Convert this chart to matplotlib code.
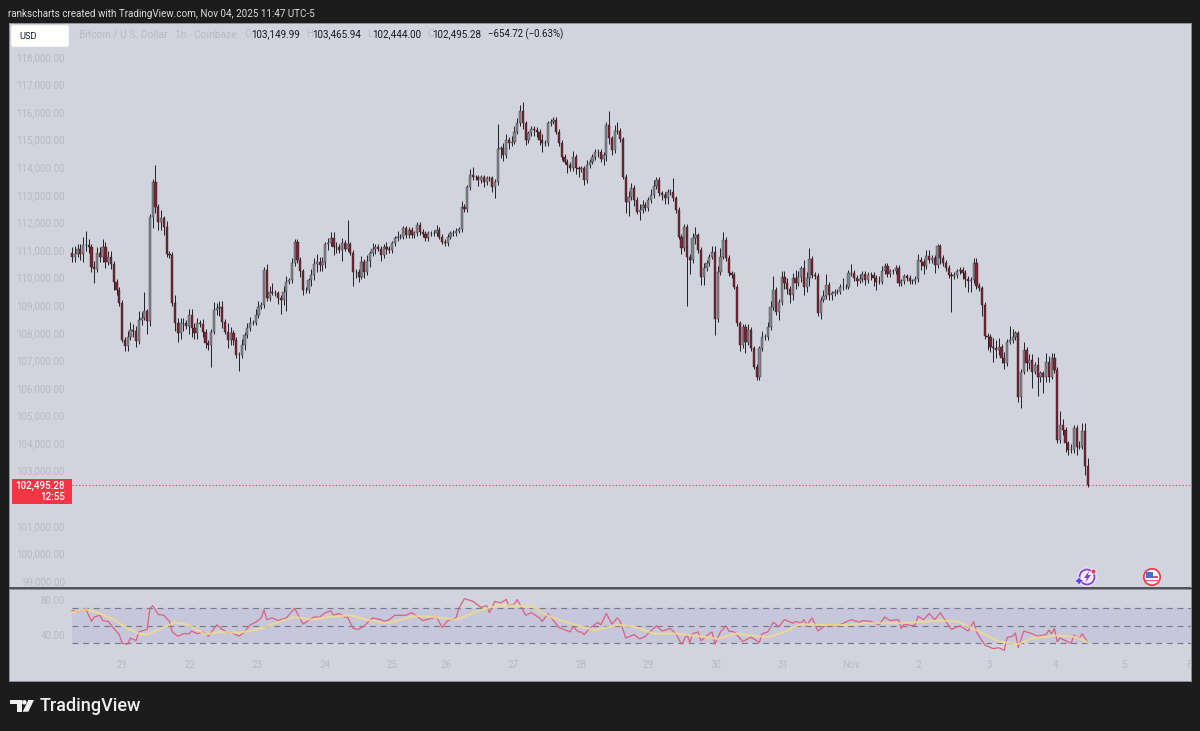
import numpy as np
import matplotlib
matplotlib.use('Agg')
import matplotlib.pyplot as plt
from matplotlib.patches import Rectangle, Circle, Polygon, FancyBboxPatch

plt.rcParams['font.family'] = ['Roboto', 'DejaVu Sans']

# hourly closes, thousands of USD (row = 10 candles)
close_k = [
    110.76, 110.85, 111.03, 110.85, 111.18, 111.18, 111.1, 110.4, 110.3, 110.9,
    110.75, 111.1, 110.55, 110.75, 110.5, 109.85, 109.55, 109.07, 107.75, 107.53,
    107.85, 108.1, 108.05, 107.7, 108.47, 108.55, 108.77, 108.44, 112.2, 113.48,
    112.55, 112.03, 112.15, 111.85, 110.85, 110.82, 109.07, 108.35, 107.98, 108.35,
    108.35, 108.25, 108.65, 108.16, 107.98, 108.35, 108.3, 108.04, 107.64, 107.56,
    108.04, 108.83, 108.89, 108.95, 108.38, 108.04, 107.74, 108.0, 107.74, 107.2,
    107.2, 107.56, 107.92, 108.16, 108.37, 108.37, 108.65, 108.95, 109.0, 110.28,
    109.25, 109.49, 109.45, 109.43, 109.25, 109.19, 109.49, 109.85, 109.9, 110.52,
    111.28, 110.64, 110.22, 109.55, 109.55, 109.9, 110.1, 110.5, 110.55, 110.45,
    110.55, 111.2, 111.25, 111.45, 111.1, 111.1, 111.0, 111.25, 111.05, 111.2,
    110.9, 110.2, 110.2, 110.03, 110.57, 110.2, 110.6, 110.88, 111.05, 111.1,
    111.05, 110.8, 111.1, 111.05, 111.0, 111.24, 111.42, 111.48, 111.48, 111.78,
    111.54, 111.72, 111.54, 111.6, 111.9, 111.66, 111.58, 111.42, 111.6, 111.6,
    111.62, 111.72, 111.48, 111.3, 111.24, 111.48, 111.6, 111.62, 111.7, 111.75,
    112.57, 112.47, 113.27, 113.72, 113.63, 113.63, 113.53, 113.63, 113.47, 113.6,
    113.6, 113.3, 113.47, 114.65, 114.68, 114.44, 114.99, 114.87, 114.93, 115.29,
    115.59, 116.05, 115.59, 114.99, 115.23, 115.4, 115.35, 115.29, 114.99, 114.87,
    114.87, 115.59, 115.65, 115.71, 115.29, 114.87, 114.38, 114.2, 114.08, 113.96,
    114.38, 113.96, 113.93, 113.96, 113.54, 114.08, 114.2, 114.38, 114.57, 114.57,
    114.29, 114.44, 115.53, 115.05, 114.63, 115.33, 115.32, 115.01, 113.66, 112.75,
    112.93, 113.24, 112.81, 112.39, 112.45, 112.63, 112.51, 112.81, 113.0, 113.32,
    113.54, 113.05, 113.0, 112.87, 113.1, 113.1, 112.87, 112.45, 111.48, 111.06,
    111.85, 110.76, 110.64, 111.42, 111.53, 111.0, 110.03, 110.33, 110.52, 110.76,
    110.94, 108.5, 110.21, 110.76, 111.36, 110.7, 110.15, 110.09, 109.67, 108.34,
    107.55, 108.2, 107.67, 108.1, 107.43, 106.77, 106.4, 107.43, 107.85, 107.85,
    108.2, 108.94, 109.55, 108.76, 109.12, 110.03, 109.79, 109.6, 109.37, 109.97,
    109.79, 110.03, 110.33, 109.67, 110.0, 110.67, 110.1, 110.05, 108.7, 109.2,
    109.34, 109.73, 109.37, 109.43, 109.49, 109.49, 109.65, 109.67, 109.67, 110.16,
    110.18, 109.98, 109.89, 109.94, 110.13, 109.92, 110.1, 110.1, 109.98, 109.85,
    109.85, 110.22, 110.42, 110.13, 110.22, 110.22, 110.34, 109.8, 109.86, 110.04,
    109.98, 109.86, 109.86, 109.94, 110.64, 110.58, 110.42, 110.79, 110.64, 110.7,
    110.46, 111.13, 110.7, 110.52, 110.34, 110.1, 110.04, 110.1, 110.22, 110.28,
    110.16, 109.94, 109.86, 109.92, 110.52, 109.7, 109.61, 109.01, 107.88, 107.86,
    107.5, 107.44, 107.38, 107.5, 107.1, 106.9, 107.68, 107.74, 107.84, 107.98,
    105.68, 106.59, 107.38, 106.9, 107.02, 106.59, 106.83, 106.41, 106.53, 106.41,
    106.95, 106.41, 107.07, 106.65, 104.11, 104.66, 104.48, 103.99, 103.75, 103.75,
    104.54, 103.87, 103.87, 104.42, 103.15, 102.495,
]

# wick length above / below the body, in hundreds of USD
upper_wick = [
    2, 3, 2, 2, 3, 5, 2, 1, 2, 2,  2, 3, 2, 2, 2, 1, 1, 1, 1, 1,
    2, 3, 2, 2, 3, 2, 7, 1, 1, 1,  6, 1, 3, 1, 2, 1, 1, 3, 2, 2,
    2, 1, 2, 2, 2, 2, 1, 2, 1, 1,  1, 3, 2, 2, 2, 1, 3, 2, 1, 1,
    1, 2, 1, 2, 2, 1, 2, 2, 1, 1,  2, 2, 3, 1, 1, 1, 2, 2, 1, 2,
    1, 1, 1, 1, 1, 1, 2, 2, 3, 2,  2, 1, 2, 2, 2, 2, 1, 2, 1, 9,
    1, 1, 1, 1, 2, 1, 2, 1, 2, 1,  1, 1, 1, 2, 1, 1, 1, 2, 1, 1,
    1, 1, 1, 1, 1, 1, 1, 1, 1, 1,  1, 2, 1, 1, 1, 1, 1, 1, 1, 1,
    2, 1, 1, 2, 3, 1, 1, 1, 1, 1,  1, 1, 1, 9, 1, 2, 2, 1, 2, 2,
    2, 2, 3, 1, 1, 1, 1, 1, 1, 2,  1, 1, 1, 1, 1, 1, 1, 1, 1, 1,
    2, 1, 1, 1, 1, 2, 1, 1, 1, 1,  1, 1, 1, 5, 1, 2, 3, 1, 1, 1,
    2, 2, 1, 1, 2, 2, 1, 1, 2, 2,  1, 1, 1, 1, 1, 1, 5, 1, 1, 1,
    1, 1, 1, 2, 3, 1, 1, 2, 1, 1,  2, 2, 2, 3, 3, 1, 1, 1, 1, 1,
    1, 1, 1, 2, 1, 1, 1, 1, 2, 1,  2, 2, 5, 1, 1, 2, 2, 2, 1, 2,
    3, 2, 1, 3, 2, 4, 1, 1, 1, 1,  2, 4, 1, 1, 1, 1, 1, 3, 1, 1,
    3, 1, 1, 2, 1, 1, 1, 1, 1, 1,  2, 2, 1, 1, 1, 1, 1, 1, 1, 1,
    1, 1, 1, 1, 2, 1, 1, 2, 2, 1,  1, 1, 1, 1, 1, 1, 1, 1, 1, 1,
    1, 1, 1, 1, 2, 2, 1, 1, 1, 1,  1, 3, 3, 3, 1, 2, 1, 5, 3, 1,
    1, 1, 3, 1, 2, 2, 1, 3, 1, 1,  3, 2, 2, 2, 1, 5, 2, 1, 1, 2,
    1, 1, 2, 3, 3, 3,
]
lower_wick = [
    2, 2, 1, 2, 3, 2, 2, 2, 5, 1,  2, 2, 2, 1, 2, 3, 2, 1, 1, 2,
    2, 1, 2, 2, 1, 2, 1, 5, 2, 4,  2, 3, 3, 3, 1, 1, 1, 3, 3, 2,
    3, 1, 3, 3, 2, 2, 1, 2, 2, 2,  8, 1, 2, 3, 2, 1, 3, 2, 2, 1,
    6, 1, 2, 1, 1, 1, 1, 1, 1, 1,  1, 1, 1, 1, 2, 5, 2, 7, 1, 1,
    1, 1, 2, 2, 1, 1, 2, 2, 3, 2,  2, 2, 2, 1, 3, 2, 1, 4, 1, 1,
    1, 5, 2, 2, 1, 2, 1, 2, 1, 2,  1, 2, 1, 2, 1, 1, 1, 1, 1, 1,
    1, 1, 1, 1, 1, 1, 1, 1, 1, 1,  1, 1, 1, 1, 1, 1, 1, 1, 1, 1,
    1, 1, 1, 1, 1, 1, 2, 1, 2, 1,  1, 2, 4, 1, 3, 2, 1, 2, 1, 1,
    1, 1, 2, 2, 1, 1, 2, 2, 2, 3,  1, 1, 1, 1, 1, 1, 1, 1, 3, 1,
    1, 2, 3, 1, 2, 1, 1, 1, 1, 2,  1, 2, 2, 2, 2, 1, 1, 1, 1, 4,
    5, 1, 2, 1, 3, 1, 1, 1, 1, 1,  1, 1, 2, 2, 2, 1, 1, 1, 1, 2,
    1, 18, 5, 1, 2, 1, 3, 3, 1, 1,  1, 6, 1, 1, 1, 1, 1, 1, 1, 1,
    2, 1, 4, 1, 1, 1, 1, 1, 1, 1,  1, 1, 1, 1, 3, 1, 2, 2, 3, 2,
    2, 1, 2, 3, 2, 3, 1, 1, 1, 2,  1, 1, 2, 2, 1, 1, 1, 1, 1, 1,
    1, 1, 2, 1, 1, 2, 1, 2, 3, 3,  1, 1, 1, 1, 1, 1, 1, 1, 1, 1,
    1, 1, 1, 1, 1, 3, 3, 1, 1, 1,  3, 1, 2, 1, 1, 1, 13, 1, 1, 1,
    2, 3, 4, 4, 1, 1, 1, 4, 1, 5,  2, 5, 3, 2, 2, 2, 1, 1, 1, 1,
    2, 4, 1, 3, 2, 6, 1, 7, 2, 6,  2, 2, 1, 1, 1, 1, 2, 3, 2, 1,
    1, 3, 1, 1, 3, 1,
]

# RSI turning points: candle number, value
rsi_idx = [0, 2, 5, 7, 8, 10, 11, 13, 15, 17, 18, 20, 21, 23, 24, 27, 28, 29, 31, 33, 35, 36, 38, 40, 42, 43, 45, 47,
           49, 52, 54, 56, 57, 60, 62, 64, 66, 68, 69, 70, 72, 74, 77, 80, 83, 85, 87, 89, 91, 93, 94, 96, 98, 99,
           101, 103, 105, 108, 111, 112, 114, 116, 118, 120, 122, 123, 126, 131, 133, 135, 138, 139, 141, 144, 147,
           149, 150, 152, 154, 156, 157, 159, 160, 163, 165, 168, 169, 171, 175, 179, 180, 182, 183, 184, 186, 189,
           190, 192, 194, 196, 197, 199, 202, 204, 206, 210, 212, 215, 217, 219, 221, 222, 223, 225, 226, 229, 230,
           231, 233, 235, 236, 238, 241, 244, 247, 248, 250, 252, 254, 256, 259, 260, 262, 263, 264, 266, 268, 271,
           275, 280, 283, 284, 287, 290, 292, 294, 297, 298, 299, 302, 303, 304, 306, 308, 310, 312, 314, 316, 319,
           322, 324, 325, 328, 331, 333, 335, 336, 338, 339, 340, 342, 345, 347, 350, 351, 352, 353, 354, 355, 359,
           360, 362, 363, 365]
rsi_val = [67, 66, 69, 55, 60, 62, 56, 55, 47, 40, 30, 29, 36, 33, 43, 46, 70, 73, 63, 62, 55, 43, 38, 41, 41, 44, 41, 43,
           38, 51, 46, 42, 43, 38, 43, 51, 54, 59, 68, 57, 59, 56, 59, 70, 52, 56, 60, 60, 65, 67, 62, 64, 60, 60,
           47, 46, 50, 59, 57, 55, 57, 62, 62, 62, 65, 63, 56, 60, 48, 56, 59, 70, 81, 78, 71,
           73, 65, 78, 76, 80, 73, 75, 80, 62, 65, 59, 55, 64, 48, 43, 49, 43, 43, 40, 47, 54,
           51, 64, 52, 59, 55, 36, 40, 35, 38, 50, 44, 47, 41, 29, 40, 31, 41, 43, 33, 41, 43,
           29, 43, 50, 44, 43, 32, 37, 31, 41, 43, 54, 49, 57, 53, 55, 53, 57, 51, 59, 44, 51,
           50, 57, 54, 56, 55, 51, 60, 56, 57, 47, 52, 50, 51, 61, 57, 64, 57, 65, 55, 46, 50,
           44, 55, 43, 28, 24, 25, 22, 37, 38, 42, 25, 44, 41, 38, 40, 45, 41, 47, 32, 36, 30,
           39, 36, 41, 31]

# moving average over the RSI
sma_idx = [0, 5, 10, 15, 20, 24, 27, 32, 37, 42, 48, 53, 60, 68, 74, 80, 86, 92, 100, 107, 113, 118, 123, 130, 138, 147,
           154, 165, 172, 181, 188, 196, 202, 209, 217, 226, 232, 238, 250, 256, 262, 269, 278, 286, 298, 312, 318,
           325, 333, 340, 345, 354, 361, 365]
sma_val = [65, 69, 64, 57, 47, 41, 40, 47, 54, 51, 40, 43, 42, 47, 54, 60, 57, 60, 62, 56, 53, 57, 61, 60, 57, 68,
           74, 72, 60, 51, 45, 51, 49, 41, 41, 38, 35, 41, 37, 43, 52, 51, 51, 53, 53, 56, 55,
           45, 32, 29, 36, 39, 37, 31]

price_ticks = list(range(99000, 119000, 1000))
day_labels = ['21', '22', '23', '24', '25', '26', '27', '28', '29', '30', '31', 'Nov', '2', '3', '4', '5', '6']
# candle number of each label, the days are not all the same width on this chart
day_pos = [18, 42.4, 66.5, 91, 115, 134.4, 158.5, 183, 207, 231.5, 255.5, 280, 304, 329.5, 353.5, 378, 401.5]
rsi_ticks = [40, 80]
rsi_levels = [30, 50, 70]

W, H = 1200, 731
STEP = 2.783     # pixels per candle
X0 = 72          # pixel of first candle
BG = '#1c1c1c'
PANEL = '#d1d4dc'
AXTXT = '#b7bac4'
FS = 7.15

close = np.array(close_k) * 1000
open_ = np.concatenate(([110900.0], close[:-1]))
high = np.maximum(open_, close) + np.array(upper_wick) * 100
low = np.minimum(open_, close) - np.array(lower_wick) * 100
idx = np.arange(len(close))


def axes_px(left, top, right, bottom, **kw):
    return fig.add_axes([left / W, 1 - bottom / H, (right - left) / W, (bottom - top) / H], **kw)


fig = plt.figure(figsize=(W / 100, H / 100), dpi=100, facecolor=BG)

xlim = ((9 - X0) / STEP, (1191 - X0) / STEP)

# price pane
ax = axes_px(9, 23, 1191, 587, facecolor=PANEL)
ax.set_xlim(*xlim)
ax.set_ylim(98780, 119230)
up = close >= open_
ax.vlines(idx, low, high, color='#26262a', lw=0.72, zorder=2)
ax.bar(idx[up], (close - open_)[up], bottom=open_[up], width=0.8, color='#85868c',
       edgecolor='#34343a', lw=0.28, zorder=3)
ax.bar(idx[~up], (close - open_)[~up], bottom=open_[~up], width=0.8, color='#7a2437',
       edgecolor='#2c181c', lw=0.28, zorder=3)
ax.hlines(close[-1], 0, xlim[1], color='#f23645', lw=0.8, linestyles=(0, (1, 2)), zorder=1)
ax.set_xticks([])
ax.set_yticks(price_ticks)
ax.set_yticklabels(['{:,.2f}'.format(p) for p in price_ticks], fontsize=FS, color=AXTXT)
ax.tick_params(axis='y', length=0, pad=-40.5)

# RSI pane
ax2 = axes_px(9, 589, 1191, 681, facecolor=PANEL)
ax2.set_xlim(*xlim)
ax2.set_ylim(-13, 92)
ax2.fill_between([0, xlim[1]], 30, 70, color='#c7c7db', lw=0, zorder=1)
for lev in rsi_levels:
    ax2.hlines(lev, 0, xlim[1], color='#787b86', lw=0.85, linestyles=(0, (5, 4)), zorder=2)
ax2.plot(rsi_idx, rsi_val, color='#dc5f82', lw=0.9, zorder=3)
ax2.plot(sma_idx, sma_val, color='#f2dc8c', lw=1.5, alpha=0.8, zorder=4)
ax2.set_yticks(rsi_ticks)
ax2.set_yticklabels(['{:.2f}'.format(v) for v in rsi_ticks], fontsize=FS, color=AXTXT)
ax2.tick_params(axis='y', length=0, pad=-40.5)
ax2.set_xticks(day_pos)
ax2.set_xticklabels(day_labels, fontsize=FS, color=AXTXT)
ax2.tick_params(axis='x', length=0, pad=-15)

for a in (ax, ax2):
    for s in a.spines.values():
        s.set_color('#8d9099')
        s.set_linewidth(0.7)

# everything around the panes, in pixel coordinates
ov = fig.add_axes([0, 0, 1, 1], facecolor='none')
ov.set_xlim(0, W)
ov.set_ylim(H, 0)
ov.axis('off')

ov.add_patch(Rectangle((9, 587), 1182, 2, color='#50535e', lw=0))
ov.text(8, 14, 'rankscharts created with TradingView.com, Nov 04, 2025 11:47 UTC-5',
        color='#dcdcdc', fontsize=FS, va='center')

ov.add_patch(FancyBboxPatch((12, 26), 56, 20, boxstyle='round,pad=0.8,rounding_size=2', fc='white', ec='none'))
ov.text(19, 36.5, 'USD', color='#131722', fontsize=6.7, va='center')

ov.text(79, 34, 'Bitcoin / U.S. Dollar · 1h · Coinbase', color='#b7bac4', fontsize=7.4, va='center')
for x_l, x_v, l, v in [(244, 251, 'O', '103,149.99'), (306, 312, 'H', '103,465.94'),
                       (367, 372, 'L', '102,444.00'), (427, 432, 'C', '102,495.28')]:
    ov.text(x_l, 34, l, color='#b7bac4', fontsize=FS, va='center')
    ov.text(x_v, 34, v, color='#131722', fontsize=FS, va='center')
ov.text(488, 34, '−654.72 (−0.63%)', color='#131722', fontsize=6.9, va='center')

# last price tag
ov.add_patch(Rectangle((12, 479), 60, 25, color='#f23645', lw=0))
ov.text(65, 486, '{:,.2f}'.format(102495.28), color='white', fontsize=FS, fontweight='medium', ha='right', va='center')
ov.text(65, 497.5, '12:55', color='white', fontsize=FS, fontweight='medium', ha='right', va='center')

# event marks under the chart
ov.add_patch(Circle((1087, 577), 9.5, fc='#f2eef8', ec='none'))
ov.add_patch(Circle((1087, 577), 7.5, fc='none', ec='#8a3fd1', lw=1.3))
ov.add_patch(Polygon([(1089, 571), (1084, 578), (1087, 578), (1085, 583), (1091, 575), (1088, 575)], fc='#8a3fd1', ec='none'))
ov.add_patch(Polygon([(1079, 577), (1081, 579.5), (1084, 581), (1081, 582.5), (1079, 585), (1077, 582.5), (1074.5, 581), (1077, 579.5)],
                     fc='#6a3fe0', ec='white', lw=0.4))
ov.add_patch(Circle((1093.5, 571.5), 2.5, fc='#e8305a', ec='white', lw=0.6))

ov.add_patch(Circle((1152, 577), 8.2, fc='white', ec='#ee3b50', lw=1.3))
for yy in (576, 579.5):
    ov.add_patch(Rectangle((1146, yy), 12, 1.6, color='#e8505e', lw=0))
ov.add_patch(Rectangle((1146, 571.5), 7, 6, color='#4a6fd0', lw=0))

# logo
ov.add_patch(Polygon([(10, 700), (21.7, 700), (21.7, 711.7), (16.7, 711.7), (16.7, 704.3), (10, 704.3)], fc='#f0f0f0', ec='none'))
ov.add_patch(Circle((24.3, 702.3), 2.3, fc='#f0f0f0', ec='none'))
ov.add_patch(Polygon([(28.3, 700), (34, 700), (28.3, 711.7), (22.7, 711.7)], fc='#f0f0f0', ec='none'))
ov.text(40, 706, 'TradingView', color='#f0f0f0', fontsize=13, fontweight='medium', va='center')

fig.savefig('out.png', dpi=100, facecolor=BG)
